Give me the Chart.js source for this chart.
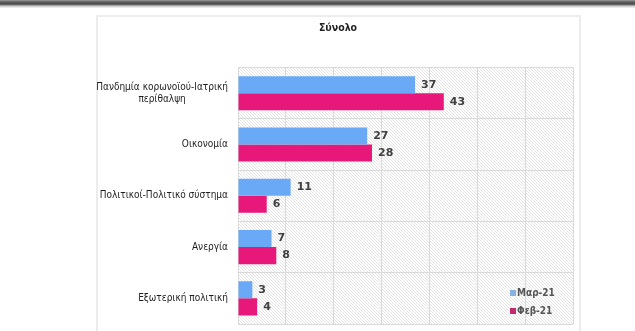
<!DOCTYPE html>
<html>

<head>
    <title>Σύνολο</title>
    <script src="https://cdn.jsdelivr.net/npm/chart.js@4.4.0/dist/chart.umd.min.js"></script>
    <style>
        html, body { margin: 0; padding: 0; background: #fff; width: 635px; height: 331px; overflow: hidden; }
        .top-bar {
            position: absolute; left: 0; top: 0; width: 635px; height: 8px;
            background: linear-gradient(#9a9a9a 0px, #5e5e5e 2px, #4a4a4a 4px, #7a7a7a 5px, #c8c8c8 6px, #f4f4f4 8px);
        }
        .card {
            position: absolute; left: 96px; top: 15px; width: 481px; height: 330px;
            border: 2px solid #ececec; background: #fff;
        }
        #wrap { position: absolute; left: 0; top: 0; width: 580px; height: 331px; }
    </style>
</head>

<body>
    <div class="top-bar"></div>
    <div class="card"></div>
    <div id="wrap"><canvas id="barChart"></canvas></div>
    <script>
        const categories = [
            ['Πανδημία κορωνοϊού-Ιατρική', 'περίθαλψη'],
            'Οικονομία',
            'Πολιτικοί-Πολιτικό σύστημα',
            'Ανεργία',
            'Εξωτερική πολιτική'
        ];
        const seriesNames = ['Μαρ-21', 'Φεβ-21'];
        const march21 = [37, 27, 11, 7, 3];
        const february21 = [43, 28, 6, 8, 4];
        const xTicks = [0, 10, 20, 30, 40, 50, 60, 70];

        const labelFont = '10px "DejaVu Sans Condensed", "DejaVu Sans", sans-serif';

        // diagonal hatch behind the bars
        function makeHatch(ctx) {
            const c = document.createElement('canvas');
            c.width = 3; c.height = 3;
            const p = c.getContext('2d');
            p.fillStyle = '#ffffff';
            p.fillRect(0, 0, 3, 3);
            p.strokeStyle = 'rgba(0,0,0,0.11)';
            p.lineWidth = 1;
            p.beginPath();
            p.moveTo(0, 0); p.lineTo(3, 3);
            p.moveTo(-1, 2); p.lineTo(1, 4);
            p.moveTo(2, -1); p.lineTo(4, 1);
            p.stroke();
            return ctx.createPattern(c, 'repeat');
        }

        const hatchPlugin = {
            id: 'hatch',
            beforeDraw(chart) {
                const { ctx, chartArea: a } = chart;
                ctx.save();
                ctx.fillStyle = makeHatch(ctx);
                ctx.fillRect(a.left, a.top, a.right - a.left, a.bottom - a.top);
                ctx.restore();
            }
        };

        // category labels, lines centred in a right-aligned block
        const catLabels = {
            id: 'catLabels',
            afterDraw(chart) {
                const { ctx } = chart;
                const y = chart.scales.y;
                ctx.save();
                ctx.font = labelFont;
                ctx.fillStyle = '#1e1e1e';
                ctx.textBaseline = 'middle';
                ctx.textAlign = 'center';
                categories.forEach((lab, i) => {
                    const lines = Array.isArray(lab) ? lab : [lab];
                    const w = Math.max(...lines.map(l => ctx.measureText(l).width));
                    const cx = chart.chartArea.left - 10 - w / 2;
                    const cy = y.getPixelForValue(i);
                    const lh = 12;
                    lines.forEach((l, j) => {
                        ctx.fillText(l, cx, cy + (j - (lines.length - 1) / 2) * lh);
                    });
                });
                ctx.restore();
            }
        };

        const valueLabels = {
            id: 'valueLabels',
            afterDatasetsDraw(chart) {
                const { ctx } = chart;
                ctx.save();
                ctx.font = 'bold 11px "DejaVu Sans", sans-serif';
                ctx.fillStyle = '#404040';
                ctx.textBaseline = 'middle';
                ctx.textAlign = 'left';
                chart.data.datasets.forEach((ds, di) => {
                    chart.getDatasetMeta(di).data.forEach((bar, i) => {
                        ctx.fillText(ds.data[i], bar.x + 6, bar.y);
                    });
                });
                ctx.restore();
            }
        };

        const cornerLegend = {
            id: 'cornerLegend',
            afterDraw(chart) {
                const { ctx, chartArea: a } = chart;
                ctx.save();
                ctx.font = 'bold 10px "DejaVu Sans Condensed", "DejaVu Sans", sans-serif';
                ctx.textBaseline = 'middle';
                ctx.textAlign = 'left';
                chart.data.datasets.forEach((ds, i) => {
                    const yy = a.bottom - 31 + i * 18;
                    ctx.fillStyle = ds.legendColor;
                    ctx.fillRect(a.right - 63, yy - 3, 6, 6);
                    ctx.fillStyle = '#555555';
                    ctx.fillText(ds.label, a.right - 56, yy);
                });
                ctx.restore();
            }
        };

        const ctx = document.getElementById('barChart').getContext('2d');
        const barChart = new Chart(ctx, {
            type: 'bar',
            data: {
                labels: categories,
                datasets: [{
                    label: seriesNames[0],
                    data: march21,
                    backgroundColor: '#69a9f5',
                    legendColor: '#86b3e0',
                    categoryPercentage: 0.665,
                    barPercentage: 1.0
                }, {
                    label: seriesNames[1],
                    data: february21,
                    backgroundColor: '#e8187a',
                    legendColor: '#c22a6e',
                    categoryPercentage: 0.665,
                    barPercentage: 1.0
                }]
            },
            options: {
                indexAxis: 'y',
                responsive: true,
                maintainAspectRatio: false,
                animation: false,
                layout: { padding: { left: 103, right: 7, top: 0, bottom: 7 } },
                plugins: {
                    legend: { display: false },
                    tooltip: { enabled: false },
                    title: {
                        display: true,
                        text: 'Σύνολο',
                        color: '#222',
                        font: { family: '"DejaVu Sans Condensed", "DejaVu Sans", sans-serif', size: 10.5, weight: 'bold', lineHeight: 1.2 },
                        padding: { top: 22, bottom: 33 }
                    }
                },
                scales: {
                    x: {
                        min: 0,
                        max: xTicks[xTicks.length - 1],
                        afterBuildTicks: (s) => { s.ticks = xTicks.map(v => ({ value: v })); },
                        afterFit: (s) => { s.height = 0; },
                        ticks: { display: false },
                        grid: { color: '#dadada', drawTicks: false },
                        border: { display: false }
                    },
                    y: {
                        afterFit: (s) => { s.width = 135; },
                        ticks: { display: false },
                        grid: { color: '#dadada', offset: true, drawTicks: false },
                        border: { color: '#dadada' }
                    }
                }
            },
            plugins: [hatchPlugin, catLabels, valueLabels, cornerLegend]
        });
    </script>
</body>

</html>
